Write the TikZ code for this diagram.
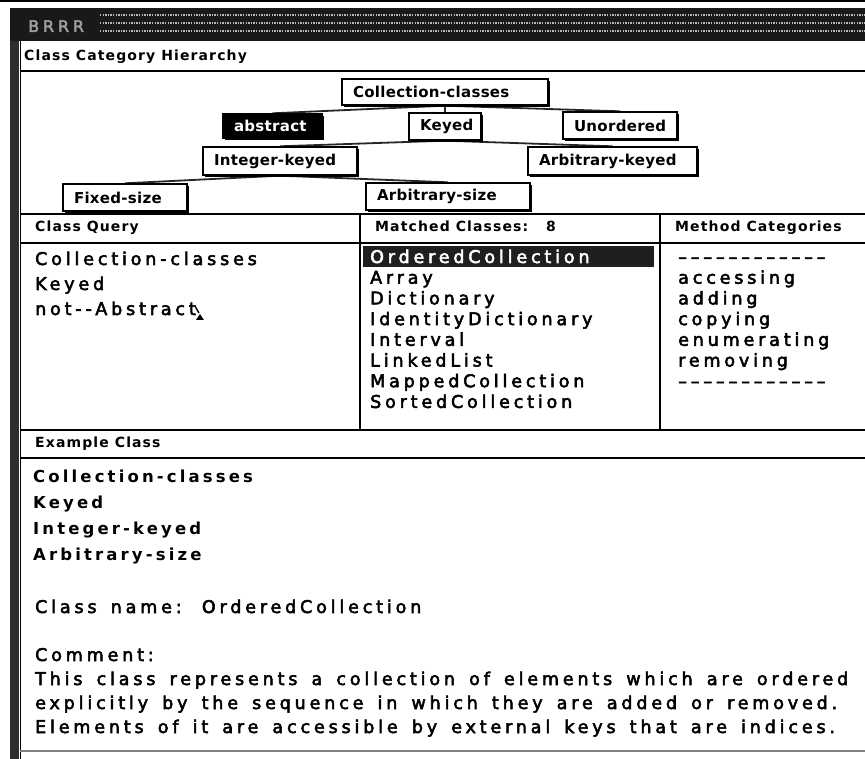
\documentclass[tikz,border=0pt]{standalone}
\usepackage{fontspec}
\usetikzlibrary{shadows,backgrounds}

% Browser window fonts
\newfontfamily\listfont{DejaVu Sans}[LetterSpace=22, WordSpace=1.5, FakeBold=3]
\newfontfamily\exfont{DejaVu Sans Bold}[LetterSpace=19]
\newfontfamily\headfont{DejaVu Sans Bold}[LetterSpace=8]
\newfontfamily\boxfont{DejaVu Sans Bold}[LetterSpace=2]
\newfontfamily\titlefont{DejaVu Sans}[LetterSpace=24, FakeBold=3]

\tikzset{
  txt/.style={inner sep=0pt, anchor=base west},
  lfont/.style={font=\listfont\fontsize{17.5}{20}\selectfont},
  efont/.style={font=\exfont\fontsize{16.5}{20}\selectfont},
  hfont/.style={font=\headfont\fontsize{14}{16}\selectfont},
  sep/.style={line width=2.6pt},
  conn/.style={line width=1.8pt, black!85},
  hbox/.style={draw, line width=1.4pt, fill=white, inner ysep=0pt, inner xsep=11pt,
    align=left, font=\boxfont\fontsize{15}{17}\selectfont,
    general shadow={fill=black, shadow xshift=1.6pt, shadow yshift=-1.6pt}},
  selbox/.style={hbox, fill=black, text=white!85}
}

\begin{document}
\begin{tikzpicture}[x=1pt,y=-1pt]
\useasboundingbox (0,0) rectangle (865,759);

% title bar
\fill[black] (0,0) rectangle (865,2.2);
\fill[gray!20!black] (10,8) rectangle (865,41);
\foreach \yy in {15,23,31}
  \draw[gray!55, line width=1.6pt, dash pattern=on 1.3pt off 1.3pt] (100,\yy) -- (865,\yy);
\node[txt, font=\titlefont\fontsize{16}{18}\selectfont, text=gray!75] (title) at (28,32) {BRRR};

% window frame
\fill[gray!35!black] (10,41) rectangle (19,759);
\draw[line width=1.6pt] (20.5,41) -- (20.5,759);
\draw[gray, line width=1.2pt] (20,751) -- (865,751);

% pane separators
\draw[sep] (20,71) -- (865,71);
\draw[sep] (20,214) -- (865,214);
\draw[sep] (20,243) -- (865,243);
\draw[sep] (20,430) -- (865,430);
\draw[sep] (20,458) -- (865,458);
\draw[sep] (360,214) -- (360,430);
\draw[sep] (660,214) -- (660,430);

% pane titles
\node[txt, hfont] (hh) at (24,61) {Class Category Hierarchy};
\node[txt, hfont] (hq) at (35,232) {Class Query};
\node[txt, hfont] (hm) at (375,232) {Matched Classes:\ \ \ 8};
\node[txt, hfont] (hc) at (675,232) {Method Categories};
\node[txt, hfont] (he) at (35,447) {Example Class};

% category hierarchy
\node[hbox, text width=184pt, minimum height=26pt] (coll) at (445,92) {Collection-classes};
\node[selbox, text width=77pt, minimum height=24pt] (abs) at (272.5,126) {abstract};
\node[hbox, text width=50pt, minimum height=27pt] (keyed) at (445,126.5) {Keyed};
\node[hbox, text width=92pt, minimum height=27pt] (unord) at (620,125.5) {Unordered};
\node[hbox, text width=132pt, minimum height=28pt] (intk) at (280,161) {Integer-keyed};
\node[hbox, text width=147pt, minimum height=28pt] (arbk) at (612.5,161) {Arbitrary-keyed};
\node[hbox, text width=102pt, minimum height=27pt] (fixed) at (125,197.5) {Fixed-size};
\node[hbox, text width=142pt, minimum height=27pt] (arbs) at (448,196.5) {Arbitrary-size};

\begin{scope}[on background layer]
  \draw[conn] (coll.south) -- (abs.north);
  \draw[conn] (coll.south) -- (keyed.north);
  \draw[conn] (coll.south) -- (unord.north);
  \draw[conn] (keyed.south) -- (intk.north);
  \draw[conn] (keyed.south) -- (arbk.north);
  \draw[conn] (intk.south) -- (fixed.north);
  \draw[conn] (intk.south) -- (arbs.north);
\end{scope}

% class query
\node[txt, lfont] (q1) at (35,265) {Collection-classes};
\node[txt, lfont] (q2) at (35,290) {Keyed};
\node[txt, lfont] (q3) at (35,315) {not-{}-Abstract};
% text cursor
\draw[line width=1.4pt] (q3.base east) ++(-1,-9) -- ++(4,7);
\fill (q3.base east) ++(0,5) -- ++(8,0) -- ++(-4,-6) -- cycle;

% matched classes
\fill[black!88] (363,246) rectangle (654,267);
\node[txt, lfont, text=white!80] (m0) at (370,263) {OrderedCollection};
\node[txt, lfont] (m1) at (370,283.7) {Array};
\node[txt, lfont] (m2) at (370,304.4) {Dictionary};
\node[txt, lfont] (m3) at (370,325.1) {IdentityDictionary};
\node[txt, lfont] (m4) at (370,345.8) {Interval};
\node[txt, lfont] (m5) at (370,366.5) {LinkedList};
\node[txt, lfont] (m6) at (370,387.2) {MappedCollection};
\node[txt, lfont] (m7) at (370,407.9) {SortedCollection};

% method categories
\node[txt, lfont] (c0) at (678,263) {––––––––––––};
\node[txt, lfont] (c1) at (678,283.7) {accessing};
\node[txt, lfont] (c2) at (678,304.4) {adding};
\node[txt, lfont] (c3) at (678,325.1) {copying};
\node[txt, lfont] (c4) at (678,345.8) {enumerating};
\node[txt, lfont] (c5) at (678,366.5) {removing};
\node[txt, lfont] (c6) at (678,387.2) {––––––––––––};

% example class
\node[txt, efont] (e1) at (33,482) {Collection-classes};
\node[txt, efont] (e2) at (33,508) {Keyed};
\node[txt, efont] (e3) at (33,534) {Integer-keyed};
\node[txt, efont] (e4) at (33,560) {Arbitrary-size};
\node[txt, lfont] (cn) at (35,613) {Class name: \hspace{3pt}OrderedCollection};
\node[txt, lfont] (cm) at (35,661) {Comment:};
\node[txt, lfont] (l1) at (35,685) {This class represents a collection of elements which are ordered};
\node[txt, lfont] (l2) at (35,709) {explicitly by the sequence in which they are added or removed.};
\node[txt, lfont] (l3) at (35,733) {Elements of it are accessible by external keys that are indices.};
\end{tikzpicture}
\end{document}
